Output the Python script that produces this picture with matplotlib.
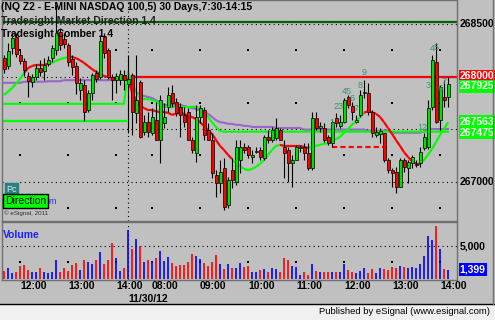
import numpy as np
import matplotlib
matplotlib.use("Agg")
import matplotlib.pyplot as plt
from matplotlib.collections import LineCollection
from matplotlib.transforms import blended_transform_factory

# 5 min bars, 11/29 11:40 .. 11/30 13:55
opens = [268175, 268100, 268270, 268375, 268205, 268150, 268005, 267950, 267995, 268080,
         268055, 268120, 268175, 268250, 268425, 268355, 268300, 268165, 268100, 267870,
         267920, 267680, 267845, 268035, 267995, 268375, 268250, 267995, 267965, 267965,
         268015,
         267930, 268015, 267655, 267950, 267470, 267565, 267465, 267585, 267395, 267560,
         267710, 267845, 267760, 267710, 267635, 267660, 267395, 267270, 267615, 267680,
         267490, 267395, 267065, 266985, 267130, 266780, 267110, 266995, 267205, 267330,
         267330, 267235, 267280, 267300, 267225, 267425, 267395, 267415, 267490, 267330,
         267300, 267175, 267205, 267320, 267330, 267270, 267130, 267605, 267510, 267510,
         267425, 267365, 267605, 267530, 267565, 267805, 267720, 267565, 267635, 267845,
         267845, 267660, 267445, 267455, 267465, 267205, 267110, 267090, 266950, 267205,
         267130, 267175, 267160, 267175, 267320, 267330, 267710, 268140, 267585, 267805,
         267805]
highs = [268205, 268320, 268405, 268415, 268250, 268175, 268045, 268025, 268120, 268155,
         268175, 268195, 268300, 268680, 268460, 268415, 268320, 268205, 268140, 267985,
         267965, 267870, 268035, 268060, 268395, 268415, 268270, 268025, 268035, 268060,
         268060,
         268205, 268035, 268205, 267965, 267635, 267660, 267700, 267760, 267825, 267750,
         267900, 267920, 267795, 267750, 267710, 267700, 267425, 267730, 267730, 267710,
         267560, 267465, 267110, 267205, 267225, 267045, 267225, 267395, 267395, 267365,
         267350, 267300, 267330, 267330, 267445, 267490, 267520, 267605, 267510, 267395,
         267330, 267255, 267350, 267350, 267365, 267365, 267660, 267660, 267565, 267560,
         267445, 267585, 267655, 267635, 267795, 267825, 267760, 267635, 267870, 267965,
         267940, 267680, 267520, 267510, 267465, 267225, 267130, 267140, 267225, 267225,
         267205, 267255, 267205, 267330, 267465, 267775, 268205, 268320, 267920, 267965,
         267995]
lows = [268035, 268070, 268215, 268185, 268120, 268005, 267805, 267900, 267965, 268005,
        267965, 268100, 268140, 268205, 268250, 268270, 268100, 268015, 267835, 267775,
        267575, 267660, 267775, 267950, 267975, 268175, 267975, 267775, 267845, 267920,
        267870,
        267465, 267445, 267560, 267415, 267445, 267425, 267445, 267395, 267175, 267510,
        267660, 267710, 267625, 267425, 267520, 267395, 267270, 267185, 267560, 267395,
        267395, 267035, 266855, 266890, 266730, 266750, 266940, 266970, 267080, 267270,
        267225, 267175, 267270, 267205, 267205, 267365, 267375, 267395, 267395, 267035,
        266995, 266950, 267205, 267280, 267205, 267110, 267110, 267490, 267470, 267375,
        267350, 267330, 267520, 267510, 267560, 267700, 267585, 267560, 267615, 267795,
        267635, 267425, 267425, 267365, 267185, 267080, 266950, 266890, 266950, 267090,
        266985, 267130, 267140, 267140, 267300, 267310, 267680, 267560, 267490, 267710,
        267710]
closes = [268070, 268245, 268365, 268215, 268150, 268060, 267955, 267995, 268080, 268045,
          268110, 268155, 268270, 268415, 268300, 268310, 268140, 268090, 267940, 267940,
          267660, 267845, 268015, 267975, 268340, 268225, 267995, 267965, 268005, 268025,
          267965,
          267975, 267660, 267775, 267425, 267565, 267470, 267615, 267395, 267775, 267615,
          267825, 267750, 267655, 267635, 267565, 267395, 267300, 267615, 267700, 267445,
          267395, 267080, 266985, 267090, 266760, 267015, 267015, 267330, 267330, 267300,
          267255, 267255, 267290, 267235, 267425, 267395, 267490, 267510, 267395, 267270,
          267175, 267205, 267330, 267330, 267270, 267130, 267605, 267510, 267530, 267395,
          267365, 267565, 267560, 267565, 267775, 267730, 267660, 267585, 267825, 267855,
          267660, 267465, 267470, 267480, 267205, 267110, 267080, 266950, 267205, 267140,
          267185, 267235, 267170, 267280, 267425, 267700, 268155, 267565, 267900, 267775,
          267925]
volumes = [1140, 1670, 830, 1050, 1870, 2070, 1300, 1050, 1050, 1560,
           1050, 830, 940, 2920, 1050, 1670, 1140, 2070, 2390, 1300,
           2920, 2610, 2180, 2810, 4060, 2290, 2810, 5460, 3120, 1140,
           1560,
           7530, 4570, 6130, 4990, 2610, 2810, 2700, 3120, 4260, 2700,
           3320, 2390, 1980, 2070, 2070, 2610, 3740, 3540, 3010, 2390,
           1980, 2610, 3630, 2290, 1400, 2180, 1670, 1560, 2390, 1760,
           1980, 940, 1050, 1300, 1450, 1050, 1560, 1450, 1050, 3230,
           2850, 1980, 1760, 620, 1050, 620, 2180, 1140, 1050, 940,
           940, 940, 1050, 940, 2180, 1360, 1050, 830, 1140, 1560,
           830, 1450, 830, 1560, 1450, 1360, 1760, 1670, 1870, 1760,
           1560, 1760, 1670, 2180, 3430, 6550, 5930, 8110, 4570, 1450,
           1399]

# Comber average, 1 = lime, 0 = red
comber = [267825, 267855, 267890, 267930, 267975, 268035, 268080, 268100, 268110, 268110,
          268110, 268120, 268130, 268150, 268165, 268175, 268185, 268185, 268175, 268155,
          268130, 268100, 268070, 268045, 268025, 268005, 267995, 267985, 267985, 267985,
          267995,
          267965, 267855, 267775, 267720, 267700, 267680, 267680, 267670, 267660, 267660,
          267655, 267635, 267645, 267655, 267645, 267625, 267615, 267595, 267565, 267530,
          267490, 267455, 267395, 267340, 267300, 267255, 267215, 267175, 267150, 267120,
          267110, 267120, 267140, 267170, 267205, 267255, 267300, 267340, 267350, 267340,
          267340, 267340, 267340, 267340, 267330, 267320, 267330, 267340, 267350, 267360,
          267365, 267385, 267405, 267425, 267465, 267500, 267540, 267575, 267615, 267655,
          267670, 267660, 267645, 267615, 267565, 267510, 267455, 267395, 267340, 267280,
          267235, 267195, 267170, 267170, 267205, 267255, 267310, 267375, 267445, 267500,
          267563]
comber_up = [1] * 6 + [0] * 6 + [1] * 5 + [0] * 41 + [1] * 12 + [0] * 7 + [1] * 14 + [0] * 14 + [1] * 7

vwap = [267940] * 5 + [267950] * 6 + [267955] * 4 + [267965] * 14 + [267975] * 2 + \
       [267985, 267920, 267855, 267825, 267815, 267805, 267795, 267775, 267750,
        267730, 267730, 267730, 267730, 267730, 267720, 267710, 267700, 267690, 267680,
        267660, 267645, 267615, 267585, 267565, 267560, 267550, 267550, 267540, 267540,
        267530, 267530] + [267520] * 6 + [267510] * 7 + [267495] * 16 + [267485] * 6 + \
       [267465] * 8 + [267480] + [267500] * 6

trail = [267740] * 31 + [268045, 267940, 267855, 267805, 267785, 267785, 267775, 267765, 267730] + \
        [267710] * 9 + [267700, 267660, 267615, 267565, 267520, 267480] + [267475] * 57

market_dir = 268520
red_level = 268000
prev_level = 267575
setup_level = 267330
setup_from, setup_to = 82, 95.75

tick_bars = [4, 16, 28, 37, 49, 61, 73, 85, 97, 109]
tick_labels = ["12:00", "13:00", "14:00", "08:00", "09:00", "10:00", "11:00", "12:00", "13:00", "14:00"]
day_break = 31
date_label = "11/30/12"
price_grid = [268500, 268000, 267500, 267000]
price_dots = [268250, 267750, 267250, 266750]

count_bars = [82, 83, 84, 85, 86, 87, 88, 89, 90, 104, 105, 106, 107, 108, 109, 110]
count_text = ["1", "2", "3", "4", "5", "6", "7", "8", "9", "1", "2", "3", "4", "5", "6", "7"]
count_pos = [267560, 267710, 267710, 267855, 267855, 267795, 267700, 267910, 268035,
             267510, 267510, 267910, 268270, 268280, 267890, 267950]

W, H = 495, 320
GRAY = "#C0C0C0"
LIME = "#00FF00"
FONT = "Liberation Sans"

def fx(px):
    return px / W

def fy(py):
    return 1 - py / H

fig = plt.figure(figsize=(W / 100, H / 100), dpi=100)
fig.patch.set_facecolor(GRAY)
fig.patches.append(plt.Rectangle((0, 0), 1, 16 / H, transform=fig.transFigure,
                                 facecolor="#F0F0F0", edgecolor="none", zorder=0))
fig.add_artist(plt.Line2D([0, 1], [16 / H, 16 / H], transform=fig.transFigure, color="black", lw=1))
fig.add_artist(plt.Line2D([fx(493), fx(493)], [fy(304), 1], transform=fig.transFigure, color="#707070", lw=1))

ax = fig.add_axes([fx(2), fy(221), fx(457) - fx(2), 221 / H])
axv = fig.add_axes([fx(2), fy(280), fx(457) - fx(2), 58 / H])

x = np.arange(len(closes))
o = np.array(opens)
c = np.array(closes)
up = c >= o

for a in (ax, axv):
    a.set_facecolor(GRAY)
    a.set_xlim(-0.5, 113.25)
    a.set_xticks([])
    a.set_yticks([])
    for s in a.spines.values():
        s.set_color("#707070")
        s.set_linewidth(1)
    a.axvline(day_break, color="black", lw=0.8, ls=(0, (1, 3)), zorder=1)

ax.set_ylim(266625, 268728)
axv.set_ylim(-230, 8770)

# grid
for g in price_grid:
    ax.axhline(g, color="black", lw=0.8, ls=(0, (1, 3)), zorder=1)
gx, gy = np.meshgrid(tick_bars, price_dots)
ax.scatter(gx.ravel(), gy.ravel(), s=0.6, color="black", marker="s", lw=0, zorder=1)

# levels
ax.axhline(market_dir, color="#006400", lw=1.6, zorder=2)
ax.plot([day_break, 113.25], [red_level, red_level], color="red", lw=1.6, zorder=2)
ax.plot([-0.5, day_break - 0.5], [prev_level, prev_level], color=LIME, lw=1.6, zorder=2)
ax.plot([setup_from, setup_to], [setup_level, setup_level], color="red", lw=1.5,
        ls=(0, (2.5, 1.5)), zorder=2)

ax.plot(x, vwap, color="#9966CC", lw=1.5, zorder=3)
ax.plot(x, trail, color=LIME, lw=1.5, zorder=3)

segs = [[(i - 1, comber[i - 1]), (i, comber[i])] for i in range(1, len(comber))]
cols = [LIME if comber_up[i] else "red" for i in range(1, len(comber))]
ax.add_collection(LineCollection(segs, colors=cols, linewidths=1.6, zorder=3))

# candles
ax.vlines(x, lows, highs, color="black", lw=0.8, zorder=4)
body = np.maximum(np.abs(c - o), 6)
ax.bar(x, body, bottom=np.minimum(o, c), width=0.75,
       color=np.where(up, "#00E000", "#FF0000"), edgecolor="black", lw=0.5, zorder=5)

for b, t, p in zip(count_bars, count_text, count_pos):
    ax.text(b, p, t, color="#339966", fontsize=6.5, family=FONT, ha="center", va="center", zorder=6)

# volume
axv.vlines(x, 0, volumes, colors=np.where(up, "#0000FF", "#FF0000"), lw=1.2, zorder=3)
axv.axhline(5000, color="black", lw=0.8, ls=(0, (1, 3)), zorder=1)
axv.scatter(tick_bars, [2500] * len(tick_bars), s=0.6, color="black", marker="s", lw=0, zorder=1)

# right scale
def rlabel(a, val, text, fc=None, dy=0, tc="black"):
    kw = dict(fontsize=7.5, family=FONT, weight="bold", ha="left", va="center", color=tc,
              annotation_clip=False)
    if fc:
        kw["bbox"] = dict(boxstyle="square,pad=0.12", fc=fc, ec="none")
    a.annotate(text, xy=(1, val), xycoords=("axes fraction", "data"),
               xytext=(2, dy), textcoords="offset points", **kw)

rlabel(ax, 268500, "268500")
rlabel(ax, 267000, "267000")
rlabel(ax, red_level, "268000", fc="red", dy=0.5, tc="white")
rlabel(ax, closes[-1], "%d" % closes[-1], fc=LIME, dy=-1.5, tc="white")
rlabel(ax, comber[-1], "%d" % comber[-1], fc=LIME, dy=0.5, tc="white")
rlabel(ax, trail[-1], "%d" % trail[-1], fc=LIME, dy=-0.8, tc="white")
rlabel(axv, 5000, "5,000")
rlabel(axv, volumes[-1], "{:,}".format(volumes[-1]), fc="#0000FF", tc="white")

# time axis
tr = blended_transform_factory(axv.transData, fig.transFigure)
for b, t in zip(tick_bars, tick_labels):
    fig.text(b, fy(286), t, transform=tr, fontsize=7.5, family=FONT, weight="bold",
             ha="left", va="center")
fig.text(day_break, fy(299), date_label, transform=tr, fontsize=7.5, family=FONT,
         weight="bold", ha="left", va="center")

# captions
fig.text(fx(1), fy(7), "(NQ Z2 - E-MINI NASDAQ 100,5) 30 Days,7:30-14:15", fontsize=7.5,
         family=FONT, weight="bold", va="center", zorder=10)
fig.text(fx(1), fy(21), "Tradesight Market Direction 1.4", fontsize=7.5, family=FONT,
         weight="bold", va="center", color="#202020", zorder=10)
fig.text(fx(1), fy(34), "Tradesight Comber 1.4", fontsize=7.5, family=FONT, weight="bold",
         va="center", zorder=10)
fig.text(fx(3), fy(235), "Volume", fontsize=7.5, family=FONT, weight="bold", color="#2020FF",
         va="center", zorder=10)
fig.text(fx(45), fy(202), "om", fontsize=6.5, family=FONT, color="#3030FF", va="center")
fig.text(fx(6), fy(189), "Pc", fontsize=6.5, family=FONT, color="#D0E8E8", va="center",
         bbox=dict(boxstyle="square,pad=0.25", fc="#2E8080", ec="#A0C0C0", lw=0.6), zorder=10)
fig.text(fx(5), fy(201), "Direction", fontsize=7.5, family=FONT, color="black", va="center",
         bbox=dict(boxstyle="square,pad=0.15", fc=LIME, ec="black", lw=1), zorder=10)
fig.text(fx(4), fy(213), "\u00a9 eSignal, 2011", fontsize=4.5, family=FONT, color="#303030",
         va="center", zorder=10)
fig.text(fx(490), fy(312), "Published by eSignal (www.esignal.com)", fontsize=6.8, family=FONT,
         ha="right", va="center")

fig.savefig("out.png", dpi=100, facecolor=fig.get_facecolor())
